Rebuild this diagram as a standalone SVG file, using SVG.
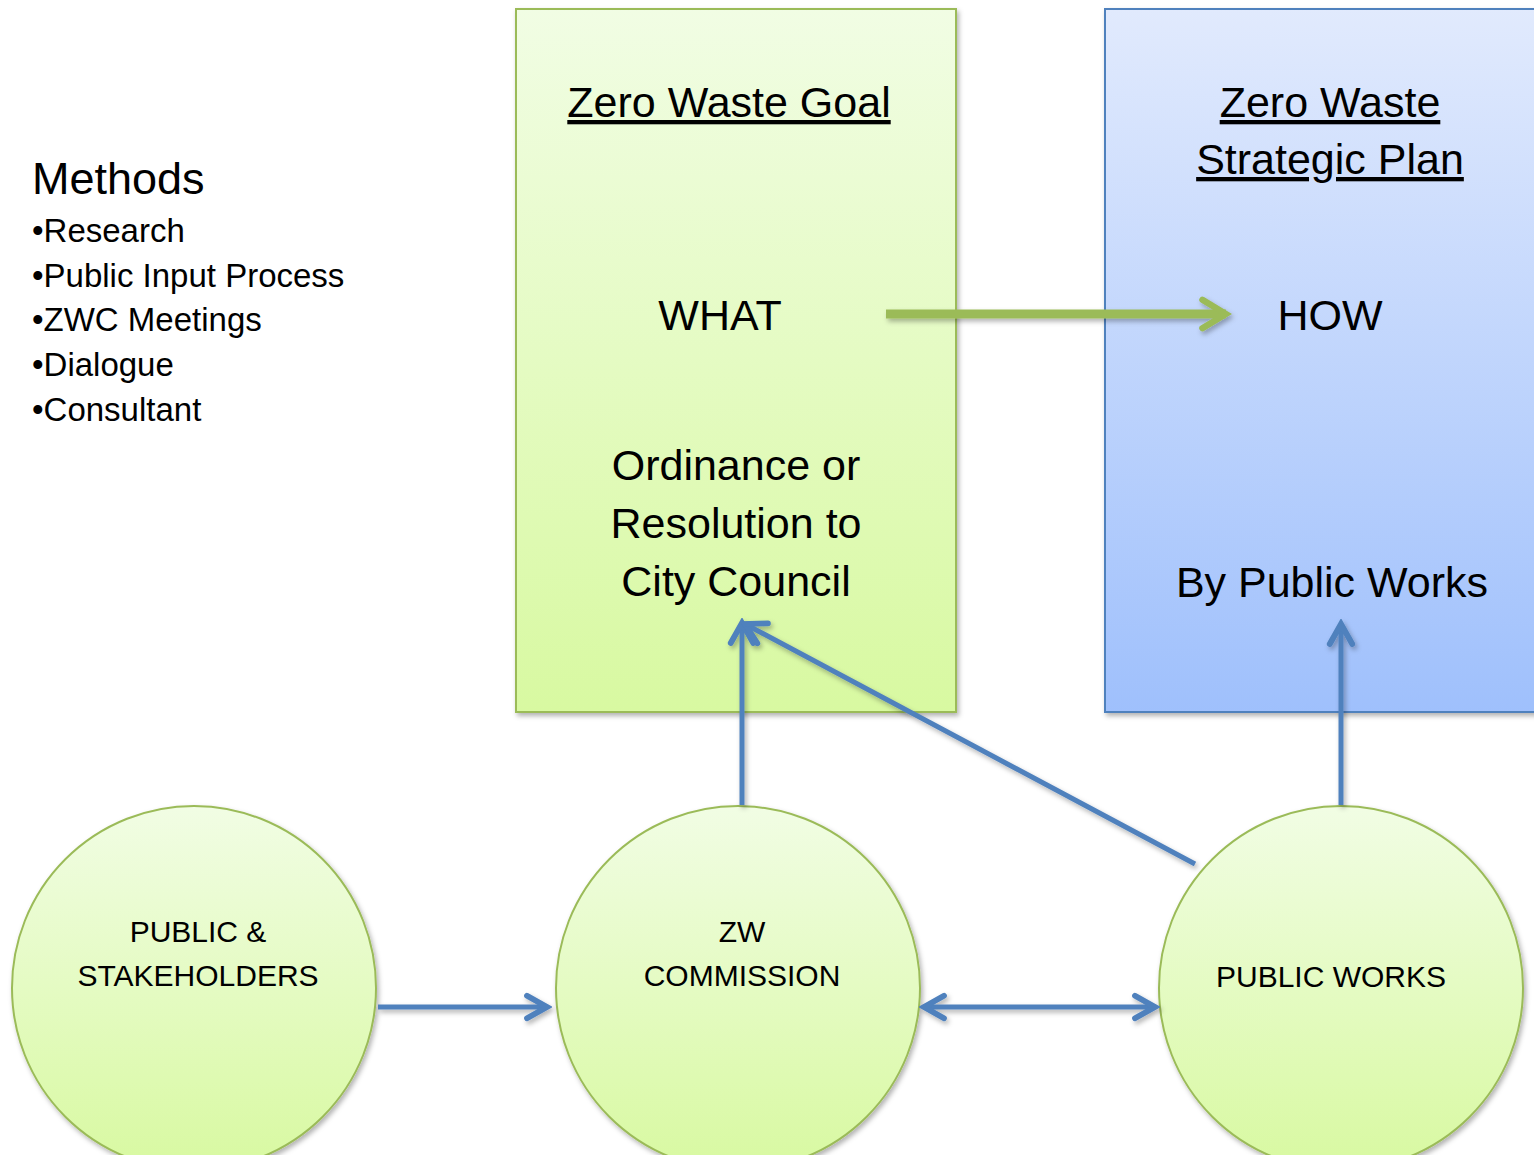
<svg xmlns="http://www.w3.org/2000/svg" width="1534" height="1155" viewBox="0 0 1534 1155">
<defs>
<linearGradient id="gGreen" x1="0" y1="0" x2="0" y2="1"><stop offset="0" stop-color="#f1fde4"/><stop offset="1" stop-color="#d8f9a1"/></linearGradient>
<linearGradient id="gBlue" x1="0" y1="0" x2="0" y2="1"><stop offset="0" stop-color="#e1eafd"/><stop offset="1" stop-color="#9fc0fc"/></linearGradient>
<filter id="sh" x="-10%" y="-10%" width="120%" height="120%"><feDropShadow dx="2" dy="3" stdDeviation="2.5" flood-color="#000" flood-opacity="0.3"/></filter>
<marker id="hb" viewBox="0 0 12 12" refX="10" refY="6" markerWidth="6" markerHeight="6" markerUnits="strokeWidth" orient="auto-start-reverse"><path d="M2,1.5 L10,6 L2,10.5" fill="none" stroke="#4f81bd" stroke-width="2.3" stroke-linecap="round" stroke-linejoin="miter"/></marker>
<marker id="hg" viewBox="0 0 12 12" refX="10" refY="6" markerWidth="4.2" markerHeight="4.2" markerUnits="strokeWidth" orient="auto"><path d="M2.5,1.5 L10,6 L2.5,10.5" fill="none" stroke="#9bbb59" stroke-width="2" stroke-linecap="round"/></marker>
</defs>
<style>
text{font-family:"Liberation Sans",Arial,sans-serif;fill:#000}
.big{font-size:43px}
.ttl{font-size:43px;text-decoration:underline}
.c{text-anchor:middle}
.bul{font-size:33px}
.circ{font-size:30px;text-anchor:middle}
.node{fill:url(#gGreen);stroke:#9bbb59;stroke-width:2}
.blue{fill:url(#gBlue);stroke:#4f81bd;stroke-width:2}
.cb{fill:none;stroke:#4f81bd;stroke-width:5}
</style>
<rect width="1534" height="1155" fill="#fff"/>
<g id="methods">
<text x="32" y="194" style="font-size:45px">Methods</text>
<text class="bul" x="32" y="242">•Research</text>
<text class="bul" x="32" y="287">•Public Input Process</text>
<text class="bul" x="32" y="331">•ZWC Meetings</text>
<text class="bul" x="32" y="376">•Dialogue</text>
<text class="bul" x="32" y="421">•Consultant</text>
</g>
<g id="goal">
<rect class="node" x="516" y="9" width="440" height="703" filter="url(#sh)"/>
<text class="ttl c" x="729" y="117">Zero Waste Goal</text>
<text class="big c" x="720" y="330">WHAT</text>
<text class="big c" x="736" y="480">Ordinance or</text>
<text class="big c" x="736" y="538">Resolution to</text>
<text class="big c" x="736" y="596">City Council</text>
</g>
<g id="plan">
<rect class="blue" x="1105" y="9" width="440" height="703" filter="url(#sh)"/>
<text class="ttl c" x="1330" y="117">Zero Waste</text>
<text class="ttl c" x="1330" y="174">Strategic Plan</text>
<text class="big c" x="1330" y="330">HOW</text>
<text class="big c" x="1332" y="597">By Public Works</text>
</g>
<g id="public">
<circle class="node" cx="194" cy="988" r="182" filter="url(#sh)"/>
<text class="circ" x="198" y="942">PUBLIC &amp;</text>
<text class="circ" x="198" y="986">STAKEHOLDERS</text>
</g>
<g id="zwc">
<circle class="node" cx="738" cy="988" r="182" filter="url(#sh)"/>
<text class="circ" x="742" y="942">ZW</text>
<text class="circ" x="742" y="986">COMMISSION</text>
</g>
<g id="works">
<circle class="node" cx="1341" cy="988" r="182" filter="url(#sh)"/>
<text class="circ" x="1331" y="987">PUBLIC WORKS</text>
</g>
<g id="connectors" filter="url(#sh)">
<line x1="886" y1="314" x2="1226" y2="314" fill="none" stroke="#9bbb59" stroke-width="9" marker-end="url(#hg)"/>
<line class="cb" x1="378" y1="1007" x2="547" y2="1007" marker-end="url(#hb)"/>
<line class="cb" x1="924" y1="1007" x2="1155" y2="1007" marker-start="url(#hb)" marker-end="url(#hb)"/>
<line class="cb" x1="742" y1="805" x2="742" y2="623" marker-end="url(#hb)"/>
<line class="cb" x1="1195" y1="864" x2="745" y2="624" marker-end="url(#hb)"/>
<line class="cb" x1="1341" y1="805" x2="1341" y2="624" marker-end="url(#hb)"/>
</g>
</svg>
